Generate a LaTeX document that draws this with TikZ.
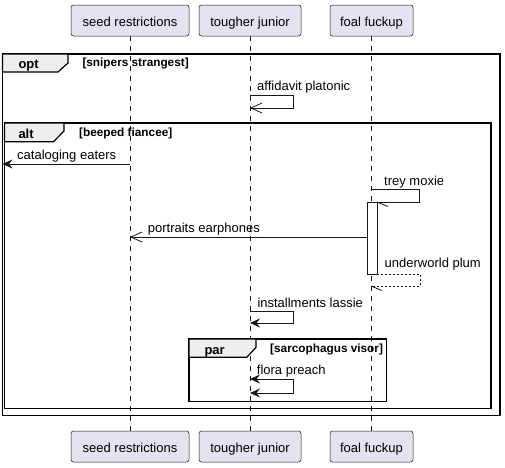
\documentclass[tikz,border=0pt]{standalone}
\usepackage{fontspec}
\setmainfont{Liberation Sans}
\usetikzlibrary{arrows.meta}
\definecolor{partfill}{HTML}{E2E2F0}
\definecolor{ln}{HTML}{181818}
\definecolor{tabfill}{HTML}{EEEEEE}
\begin{document}
\begin{tikzpicture}[x=1pt,y=-1pt,
  part/.style={draw=ln, line width=0.5pt, fill=partfill, rounded corners=2.5pt,
    minimum height=31pt, inner sep=0pt, text height=12pt, text depth=0pt,
    font=\fontsize{13}{15}\selectfont},
  lifeline/.style={draw=ln, line width=0.5pt, dash pattern=on 5pt off 5pt},
  msg/.style={draw=ln, line width=0.8pt},
  openhead/.style={-{Straight Barb[length=11pt,width=10pt,line width=0.8pt]}},
  fillhead/.style={-{Stealth[length=10pt,width=9pt,inset=3.5pt]}},
  bothfill/.style={{Stealth[length=10pt,width=9pt,inset=3.5pt]}-{Stealth[length=10pt,width=9pt,inset=3.5pt]}},
  retline/.style={draw=ln, line width=0.8pt, dash pattern=on 2pt off 2pt},
  msgtxt/.style={anchor=base west, inner sep=0pt, font=\fontsize{13}{15}\selectfont},
  frame/.style={draw=black, line width=1.5pt},
  tabshape/.style={draw=black, line width=1.2pt, fill=tabfill},
  kindtxt/.style={anchor=base west, inner sep=0pt, font=\bfseries\fontsize{13}{15}\selectfont},
  condtxt/.style={anchor=base west, inner sep=0pt, font=\bfseries\fontsize{11.8}{14}\selectfont},
  act/.style={draw=ln, line width=0.8pt, fill=white, minimum width=10pt, minimum height=72pt, inner sep=0pt}
]
\path[use as bounding box] (0,0) rectangle (505,467);

% participants
\node[part, minimum width=118pt] (p1top) at (130,20.5) {seed restrictions};
\node[part, minimum width=102pt] (p2top) at (250,20.5) {tougher junior};
\node[part, minimum width=83pt]  (p3top) at (371.5,20.5) {foal fuckup};
\node[part, minimum width=118pt] (p1bot) at (130,446.5) {seed restrictions};
\node[part, minimum width=102pt] (p2bot) at (250,446.5) {tougher junior};
\node[part, minimum width=83pt]  (p3bot) at (371.5,446.5) {foal fuckup};

% lifelines
\draw[lifeline] (p1top.south) -- (p1bot.north);
\draw[lifeline] (p2top.south) -- (p2bot.north);
\draw[lifeline] ([xshift=-0.5pt]p3top.south) -- ([xshift=-0.5pt]p3bot.north);

% opt frame
\draw[frame] (2.5,54) rectangle (500,415.5);
\draw[tabshape] (2.5,54) -- (68,54) -- (68,63) -- (58,72) -- (2.5,72) -- cycle;
\node[kindtxt] (optk) at (18.3,68.3) {opt};
\node[condtxt] (optc) at (82.3,66) {[snipers strangest]};

% alt frame
\draw[frame] (4.5,123) rectangle (491,408.5);
\draw[tabshape] (4.5,123) -- (64,123) -- (64,131) -- (53.5,141.7) -- (4.5,141.7) -- cycle;
\node[kindtxt] (altk) at (18.3,138.3) {alt};
\node[condtxt] (altc) at (79,136.7) {[beeped fiancee]};

% par frame
\draw[frame] (189,339) rectangle (386.7,401.7);
\draw[tabshape] (189,339) -- (256,339) -- (256,347.5) -- (246.7,357.3) -- (189,357.3) -- cycle;
\node[kindtxt] (park) at (204.3,354) {par};
\node[condtxt] (parc) at (270,352.7) {[sarcophagus visor]};

% affidavit platonic (self)
\coordinate (a1) at (250,95.5);
\coordinate (a2) at (293,95.5);
\coordinate (a3) at (293,108);
\coordinate (a4) at (250,108);
\draw[msg, openhead] (a1) -- (a2) -- (a3) -- (a4);
\node[msgtxt] (t1) at (257,90) {affidavit platonic};

% cataloging eaters
\coordinate (c1) at (130,164);
\coordinate (c2) at (2.5,164);
\draw[msg, fillhead] (c1) -- (c2);
\node[msgtxt] (t2) at (17,159) {cataloging eaters};

% trey moxie (self, into activation)
\coordinate (m1) at (371,189.5);
\coordinate (m2) at (419.5,189.5);
\coordinate (m3) at (419.5,202);
\coordinate (m4) at (377,202);
\coordinate (m5) at (388,206.5);
\draw[msg] (m1) -- (m2) -- (m3) -- (m4);
\node[msgtxt] (t3) at (384,185) {trey moxie};

% activation
\node[act] (act) at (372,238) {};
\draw[msg] (m4) -- (m5);

% portraits earphones
\coordinate (pe1) at (367,237);
\coordinate (pe2) at (130,237);
\draw[msg, openhead] (pe1) -- (pe2);
\node[msgtxt] (t4) at (147.7,232.7) {portraits earphones};

% underworld plum (return)
\coordinate (u1) at (377,274);
\coordinate (u2) at (420,274);
\coordinate (u3) at (420,286);
\coordinate (u4) at (371,286);
\coordinate (u5) at (382,290.5);
\draw[retline] (u1) -- (u2) -- (u3) -- (u4);
\draw[msg] (u4) -- (u5);
\node[msgtxt] (t5) at (384.5,267.7) {underworld plum};

% installments lassie (self)
\coordinate (i1) at (250,311);
\coordinate (i2) at (293,311);
\coordinate (i3) at (293,323);
\coordinate (i4) at (250,323);
\draw[msg, fillhead] (i1) -- (i2) -- (i3) -- (i4);
\node[msgtxt] (t6) at (257.3,307.3) {installments lassie};

% flora preach (self, both ends)
\coordinate (f1) at (250,379);
\coordinate (f2) at (293,379);
\coordinate (f3) at (293,393);
\coordinate (f4) at (250,393);
\draw[msg, bothfill] (f1) -- (f2) -- (f3) -- (f4);
\node[msgtxt] (t7) at (256.7,374.3) {flora preach};
\end{tikzpicture}
\end{document}
